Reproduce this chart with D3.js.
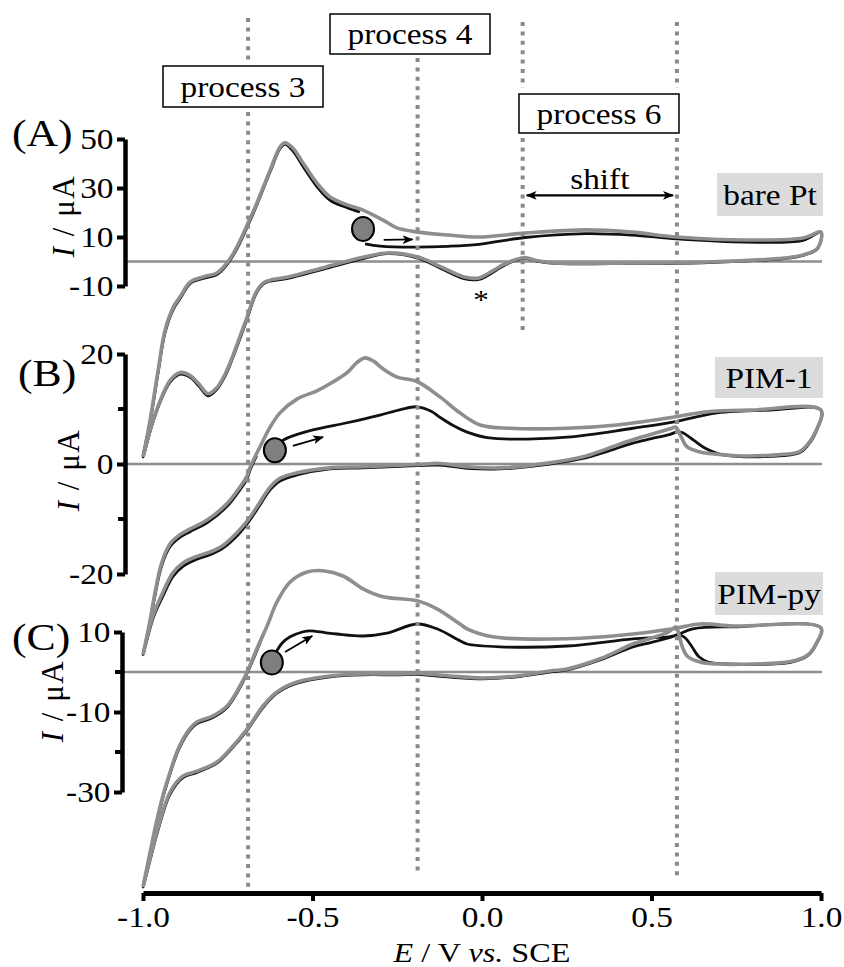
<!DOCTYPE html>
<html>
<head>
<meta charset="utf-8">
<style>
  body { margin: 0; background: #fff; }
  text { font-family: "Liberation Serif", "Times New Roman", serif; fill: #000; }
</style>
</head>
<body>
<script src="https://d3js.org/d3.v7.min.js"></script>
<script>
// ---------- data (E in V vs SCE, I in uA) ----------
var eTicks = [-1.0, -0.5, 0.0, 0.5, 1.0];
var processE = [-0.69, -0.19, 0.12, 0.575];
var processNames = ["process 3", "process 4", "process 6"];
var panelNames = ["(A)", "(B)", "(C)"];
var tagNames = ["bare Pt", "PIM-1", "PIM-py"];

var ticksA = [50, 30, 10, -10], minorA = [];
var ticksB = [20, 0, -20], minorB = [10, -10];
var ticksC = [10, -10, -30], minorC = [0, -20];

// panel A : bare Pt
var aGrayFwd = [[-1.0,-79.8],[-0.979,-64.7],[-0.955,-44],[-0.935,-28],[-0.91,-18.5],[-0.891,-14.5],[-0.861,-8.4],[-0.823,-6.3],[-0.782,-4.7],[-0.752,-0.6],[-0.723,5.9],[-0.693,14.8],[-0.664,23.9],[-0.625,37.3],[-0.596,46.7],[-0.581,48.4],[-0.558,46.3],[-0.528,40.2],[-0.487,32.0],[-0.448,26.3],[-0.398,23.1],[-0.351,21.0],[-0.292,16.9],[-0.251,13.7],[-0.189,12.0],[-0.1,10.8],[-0.009,10.0],[0.127,11.6],[0.307,12.9],[0.442,12.0],[0.575,10.0],[0.779,8.8],[0.947,9.6],[1.0,12.0]];
var aGrayRev = [[0.99,5.5],[0.947,2.7],[0.891,1.4],[0.667,-0.2],[0.442,-0.6],[0.215,-0.6],[0.16,0.4],[0.127,1.6],[0.1,0.8],[0.06,-1.5],[0.035,-3.5],[-0.009,-6.7],[-0.053,-6.3],[-0.121,-2.2],[-0.189,1.8],[-0.28,3.5],[-0.348,1.8],[-0.46,-2.2],[-0.572,-6.3],[-0.625,-7.6],[-0.646,-8.8],[-0.668,-13],[-0.693,-22.7],[-0.715,-31],[-0.735,-38.5],[-0.758,-46],[-0.782,-51.5],[-0.808,-54],[-0.835,-50],[-0.862,-46.5],[-0.89,-45.3],[-0.92,-48.5],[-0.95,-57],[-0.975,-67],[-1.0,-79.8]];
var aBlackFwd = [[-0.345,7.2],[-0.3,6.3],[-0.204,5.9],[-0.1,6.2],[-0.009,7.0],[0.127,9.8],[0.307,11.4],[0.442,10.8],[0.575,9.2],[0.779,7.9],[0.947,8.6],[1.0,12.0]];
var aBlackRev = [[0.99,5.3],[0.947,2.5],[0.891,1.2],[0.667,-0.4],[0.442,-0.8],[0.215,-0.8],[0.16,0.2],[0.127,1.3],[0.1,0.5],[0.06,-2],[0.035,-4.2],[-0.009,-7.3],[-0.053,-7.0],[-0.121,-2.8],[-0.189,1.4],[-0.28,3.2],[-0.348,1.3],[-0.46,-2.8],[-0.572,-6.9],[-0.625,-8.0],[-0.646,-9.3],[-0.668,-13.6],[-0.693,-23.5],[-0.715,-31.8],[-0.735,-39.2],[-0.758,-46.8],[-0.782,-52.2],[-0.808,-54.8],[-0.835,-50.8],[-0.862,-47.2],[-0.89,-46],[-0.92,-49.2],[-0.95,-57.5],[-0.975,-67.5],[-1.0,-79.8]];
var aBlackRet = [[-0.979,-65.5],[-0.955,-45],[-0.935,-29],[-0.91,-19.3],[-0.891,-15.2],[-0.861,-9],[-0.823,-6.9],[-0.782,-5.3],[-0.752,-1.2],[-0.723,5.2],[-0.693,14],[-0.664,23.2],[-0.625,36.6],[-0.596,46],[-0.581,47.8],[-0.558,45.2],[-0.528,38.8],[-0.487,30.6],[-0.448,25],[-0.398,22],[-0.36,20.2]];
var aStart = [-0.351, 13.3];
var aArrow = [[-0.29, 8.8], [-0.205, 9.0]];

// panel B : PIM-1
var bGrayFwd = [[-1.0,-34.7],[-0.979,-28.4],[-0.965,-23.5],[-0.945,-18],[-0.92,-14.5],[-0.89,-12.8],[-0.861,-11.8],[-0.811,-10.2],[-0.752,-7.2],[-0.714,-4.2],[-0.693,-2.2],[-0.684,-0.6],[-0.655,3.1],[-0.625,6.7],[-0.596,9.3],[-0.546,11.8],[-0.487,13.3],[-0.44,14.9],[-0.398,16.6],[-0.37,18.4],[-0.345,19.3],[-0.32,18.7],[-0.292,17.3],[-0.25,15.8],[-0.192,15.0],[-0.124,12.2],[-0.065,9.3],[-0.006,7.1],[0.083,6.5],[0.251,6.5],[0.398,7.1],[0.563,8.5],[0.664,9.5],[0.79,9.8],[1.0,9.8]];
var bGrayRev = [[0.985,6.0],[0.96,3.5],[0.935,2.2],[0.85,1.6],[0.75,1.5],[0.69,1.8],[0.643,2.2],[0.605,3.1],[0.584,5.4],[0.572,6.7],[0.555,6.4],[0.5,5.4],[0.445,4.4],[0.37,2.8],[0.298,1.3],[0.2,0.2],[0.053,-0.7],[-0.044,-0.5],[-0.124,0.1],[-0.192,-0.1],[-0.351,-0.5],[-0.448,-0.7],[-0.546,-1.6],[-0.596,-2.6],[-0.625,-4.2],[-0.664,-7.8],[-0.693,-10.4],[-0.723,-12.5],[-0.764,-14.8],[-0.802,-16.0],[-0.841,-16.8],[-0.882,-18.0],[-0.912,-19.8],[-0.941,-23.3],[-0.97,-27.5],[-1.0,-34.7]];
var bBlackFwd = [[-0.59,4.2],[-0.575,4.7],[-0.499,6.2],[-0.398,7.5],[-0.301,8.9],[-0.24,9.9],[-0.192,10.4],[-0.15,9.6],[-0.124,8.5],[-0.085,7.0],[-0.044,5.8],[0.015,4.8],[0.251,4.9],[0.445,6.5],[0.563,7.6],[0.693,9.3],[0.85,9.8],[1.0,9.8]];
var bBlackRev = [[0.985,5.8],[0.96,3.3],[0.935,2.0],[0.85,1.4],[0.75,1.4],[0.7,1.8],[0.66,2.8],[0.625,4.3],[0.595,5.6],[0.58,5.9],[0.555,5.4],[0.5,4.6],[0.445,3.8],[0.37,2.3],[0.298,1.0],[0.2,0.0],[0.053,-0.9],[-0.044,-0.8],[-0.124,-0.2],[-0.192,-0.3],[-0.351,-0.7],[-0.448,-0.9],[-0.546,-2.0],[-0.596,-3.1],[-0.625,-4.7],[-0.664,-8.3],[-0.693,-10.9],[-0.723,-13.1],[-0.764,-15.3],[-0.802,-16.5],[-0.841,-17.3],[-0.882,-18.6],[-0.912,-20.5],[-0.941,-24],[-0.97,-28],[-1.0,-34.7]];
var bBlackRet = [[-0.979,-28.8],[-0.965,-24],[-0.945,-18.5],[-0.92,-15],[-0.89,-13.3],[-0.861,-12.3],[-0.811,-10.7],[-0.752,-7.7],[-0.714,-4.7],[-0.693,-2.7],[-0.684,-1.1],[-0.665,1.5]];
var bStart = [-0.611, 2.5];
var bArrow = [[-0.558, 3.3], [-0.469, 4.9]];

// panel C : PIM-py
var cGrayFwd = [[-1.0,-53.8],[-0.979,-45],[-0.959,-37],[-0.94,-30.5],[-0.92,-25],[-0.9,-20],[-0.882,-16.8],[-0.86,-14],[-0.841,-12.5],[-0.794,-11],[-0.752,-8.5],[-0.714,-3.5],[-0.693,0],[-0.664,5.8],[-0.634,11.5],[-0.605,17.5],[-0.566,22.5],[-0.516,25],[-0.469,25.3],[-0.41,24],[-0.351,20.8],[-0.292,18.8],[-0.192,17.8],[-0.133,15.8],[-0.065,12],[-0.044,10.8],[0.032,8.8],[0.251,8.3],[0.445,9.5],[0.563,10.8],[0.643,12],[0.74,11.5],[1.0,11]];
var cGrayRev = [[0.985,7],[0.96,4.2],[0.91,2.6],[0.8,2.0],[0.693,2.0],[0.643,2.5],[0.605,4],[0.59,6.5],[0.578,10.3],[0.572,11.3],[0.55,10],[0.5,8.5],[0.445,7],[0.348,3.3],[0.251,0.75],[0.2,0.25],[0.103,-1],[0.003,-1.5],[-0.094,-1],[-0.192,-0.3],[-0.251,-0.5],[-0.351,-0.5],[-0.448,-1],[-0.546,-2.5],[-0.605,-5],[-0.646,-8.5],[-0.693,-14.3],[-0.743,-19.3],[-0.782,-22.5],[-0.841,-24.8],[-0.882,-26],[-0.92,-30],[-0.959,-40],[-0.979,-46.5],[-1.0,-53.8]];
var cBlackFwd = [[-0.61,4.6],[-0.59,7.2],[-0.566,8.8],[-0.53,10],[-0.507,10.3],[-0.46,9.8],[-0.428,9.5],[-0.351,9],[-0.28,9.7],[-0.192,12],[-0.133,10.8],[-0.065,7.8],[-0.044,7],[0.053,6.3],[0.251,6.5],[0.445,8.3],[0.563,9],[0.622,10.8],[0.74,11.3],[1.0,11]];
var cBlackRev = [[0.985,6.8],[0.96,4],[0.91,2.4],[0.8,1.9],[0.72,2.0],[0.667,2.5],[0.64,3.8],[0.618,6.5],[0.6,8.5],[0.582,9.3],[0.55,8.5],[0.5,7.4],[0.445,6.3],[0.348,3],[0.251,0.5],[0.2,0],[0.103,-1.2],[0.003,-1.7],[-0.094,-1.3],[-0.192,-0.6],[-0.251,-0.7],[-0.351,-0.7],[-0.448,-1.2],[-0.546,-2.8],[-0.605,-5.3],[-0.646,-8.9],[-0.693,-14.6],[-0.743,-19.6],[-0.782,-22.8],[-0.841,-25.1],[-0.882,-26.4],[-0.92,-30.5],[-0.959,-40.5],[-0.979,-47],[-1.0,-53.8]];
var cBlackRet = [[-0.979,-45.5],[-0.959,-37.5],[-0.94,-31],[-0.92,-25.4],[-0.9,-20.4],[-0.882,-17.2],[-0.86,-14.4],[-0.841,-12.9],[-0.794,-11.4],[-0.752,-8.9],[-0.714,-3.9],[-0.693,-0.3],[-0.664,5.4],[-0.645,9.5]];
var cStart = [-0.62, 2.4];
var cArrow = [[-0.581, 5], [-0.501, 9]];

// annotations in panel A units
var shiftE = [0.12, 0.575], shiftI = 27;
var starPoint = [-0.003, -14.5];

// ---------- layout ----------
var W = 844, H = 967;
var GRAY = "#8e8e8e";
var SX = 1.15; // the original figure is stretched sideways

var panels = [
  { dom: [-10, 50], rng: [286, 139], axisX: 125, ticks: ticksA, minor: minorA, label: [12, 146], title: [63, 216], tag: [717, 173, 106, 43],
    gf: aGrayFwd, gr: aGrayRev, kf: aBlackFwd, kr: aBlackRev, kt: aBlackRet, start: aStart, arrow: aArrow },
  { dom: [-20, 20], rng: [574, 354], axisX: 125, ticks: ticksB, minor: minorB, label: [18, 386], title: [68, 470], tag: [715, 357, 108, 41],
    gf: bGrayFwd, gr: bGrayRev, kf: bBlackFwd, kr: bBlackRev, kt: bBlackRet, start: bStart, arrow: bArrow },
  { dom: [-30, 10], rng: [792, 632], axisX: 122, ticks: ticksC, minor: minorC, label: [12, 650], title: [52, 701], tag: [715, 572, 108, 43],
    gf: cGrayFwd, gr: cGrayRev, kf: cBlackFwd, kr: cBlackRev, kt: cBlackRet, start: cStart, arrow: cArrow }
];

var dotSegs = [
  [[18, 63], [112, 892]],
  [[58, 873]],
  [[22, 88], [138, 330]],
  [[22, 88], [138, 876]]
];
var procBoxes = [[163, 66, 160, 41], [330, 14, 160, 40], [519, 94, 160, 39]];

var svg = d3.select("body").append("svg")
  .attr("width", W).attr("height", H)
  .style("display", "block");
svg.append("rect").attr("width", W).attr("height", H).attr("fill", "#fff");

var defs = svg.append("defs");
defs.append("marker").attr("id", "head")
  .attr("viewBox", "0 0 10 10").attr("refX", 9).attr("refY", 5)
  .attr("markerWidth", 11).attr("markerHeight", 11)
  .attr("markerUnits", "userSpaceOnUse")
  .attr("orient", "auto-start-reverse")
  .append("path").attr("d", "M0,1 L10,5 L0,9 L2.5,5 Z").attr("fill", "#000");

var x = d3.scaleLinear().domain([-1, 1]).range([143, 821]);

function stext(sel, px, py, str, size, anchor) {
  return sel.append("text")
    .attr("transform", "translate(" + px + "," + py + ") scale(" + SX + ",1)")
    .attr("font-size", size)
    .attr("text-anchor", anchor || "middle")
    .text(str);
}

var curves = svg.append("g");
var overlay = svg.append("g");

panels.forEach(function (p, i) {
  var y = d3.scaleLinear().domain(p.dom).range(p.rng);
  var line = d3.line()
    .x(function (d) { return x(d[0]); })
    .y(function (d) { return y(d[1]); })
    .curve(d3.curveCatmullRom.alpha(0.5));

  // zero line
  curves.append("line")
    .attr("x1", p.axisX).attr("x2", 822)
    .attr("y1", y(0)).attr("y2", y(0))
    .attr("stroke", GRAY).attr("stroke-width", 2.6);

  // cycle 1 (black) then cycle 2 (grey) on top
  curves.append("path").datum(p.kf.concat(p.kr, p.kt))
    .attr("d", line).attr("fill", "none")
    .attr("stroke", "#111").attr("stroke-width", 2.8)
    .attr("stroke-linejoin", "round");
  curves.append("path").datum(p.gf.concat(p.gr))
    .attr("d", line).attr("fill", "none")
    .attr("stroke", GRAY).attr("stroke-width", 3.6)
    .attr("stroke-linejoin", "round");

  // y axis
  var ax = overlay.append("g").attr("transform", "translate(" + p.axisX + ",0)")
    .call(d3.axisLeft(y).tickValues(p.ticks).tickSize(8).tickSizeOuter(0).tickPadding(2)
      .tickFormat(function (d) { return String(d); }));
  ax.select(".domain").attr("stroke-width", 4.5);
  ax.selectAll(".tick line").attr("stroke-width", 4);
  ax.selectAll(".tick text")
    .attr("font-size", 29).attr("font-family", "Liberation Serif")
    .attr("transform", "scale(" + SX + ",1)");
  ax.selectAll(".minor").data(p.minor).enter().append("line")
    .attr("x1", -7).attr("x2", 0)
    .attr("y1", function (d) { return y(d); }).attr("y2", function (d) { return y(d); })
    .attr("stroke", "#000").attr("stroke-width", 4);

  // panel label and axis title
  stext(overlay, p.label[0], p.label[1], panelNames[i], 38, "start");
  var t = overlay.append("text")
    .attr("transform", "translate(" + p.title[0] + "," + p.title[1] + ") rotate(-90)")
    .attr("font-size", 31).attr("text-anchor", "middle")
    .attr("dominant-baseline", "central").attr("letter-spacing", 1.5);
  t.append("tspan").attr("font-style", "italic").text("I");
  t.append("tspan").text(" / \u03bcA");

  // material tag
  overlay.append("rect")
    .attr("x", p.tag[0]).attr("y", p.tag[1]).attr("width", p.tag[2]).attr("height", p.tag[3])
    .attr("fill", "#dcdcdc");
  stext(overlay, p.tag[0] + p.tag[2] / 2, p.tag[1] + p.tag[3] / 2 + 10, tagNames[i], 29);

  p.y = y;
});

// dotted process lines
processE.forEach(function (e, i) {
  dotSegs[i].forEach(function (s) {
    overlay.append("line")
      .attr("x1", x(e)).attr("x2", x(e))
      .attr("y1", s[0]).attr("y2", s[1])
      .attr("stroke", "#8a8a8a").attr("stroke-width", 4)
      .attr("stroke-dasharray", "4 5.4");
  });
});

// start points and scan-direction arrows
panels.forEach(function (p) {
  var y = p.y;
  overlay.append("ellipse")
    .attr("cx", x(p.start[0])).attr("cy", y(p.start[1]))
    .attr("rx", 11).attr("ry", 12)
    .attr("fill", "#7f7f7f").attr("stroke", "#000").attr("stroke-width", 2);
  overlay.append("line")
    .attr("x1", x(p.arrow[0][0])).attr("y1", y(p.arrow[0][1]))
    .attr("x2", x(p.arrow[1][0])).attr("y2", y(p.arrow[1][1]))
    .attr("stroke", "#000").attr("stroke-width", 1.8)
    .attr("marker-end", "url(#head)");
});

// process boxes
procBoxes.forEach(function (b, i) {
  overlay.append("rect")
    .attr("x", b[0]).attr("y", b[1]).attr("width", b[2]).attr("height", b[3])
    .attr("fill", "#fff").attr("stroke", "#000").attr("stroke-width", 1.5);
  stext(overlay, b[0] + b[2] / 2, b[1] + b[3] / 2 + 10, processNames[i], 29);
});

// shift arrow and asterisk (panel A units)
var yA = panels[0].y;
overlay.append("line")
  .attr("x1", x(shiftE[0]) + 4).attr("x2", x(shiftE[1]) - 4)
  .attr("y1", yA(shiftI)).attr("y2", yA(shiftI))
  .attr("stroke", "#000").attr("stroke-width", 2.2)
  .attr("marker-start", "url(#head)").attr("marker-end", "url(#head)");
stext(overlay, (x(shiftE[0]) + x(shiftE[1])) / 2, yA(shiftI) - 6, "shift", 29);
stext(overlay, x(starPoint[0]), yA(starPoint[1]) + 12, "*", 27);

// x axis
var xa = overlay.append("g").attr("transform", "translate(0,893)")
  .call(d3.axisBottom(x).tickValues(eTicks).tickSize(8).tickSizeOuter(0).tickPadding(5)
    .tickFormat(function (d) { return d.toFixed(1); }));
xa.select(".domain").attr("stroke-width", 5);
xa.selectAll(".tick line").attr("stroke-width", 4);
xa.selectAll(".tick text")
  .attr("font-size", 29).attr("font-family", "Liberation Serif")
  .attr("transform", "scale(" + SX + ",1)");

var xt = overlay.append("text")
  .attr("transform", "translate(482,962) scale(" + SX + ",1)")
  .attr("font-size", 28).attr("text-anchor", "middle");
xt.append("tspan").attr("font-style", "italic").text("E");
xt.append("tspan").text(" / V ");
xt.append("tspan").attr("font-style", "italic").text("vs.");
xt.append("tspan").text(" SCE");
</script>
</body>
</html>
